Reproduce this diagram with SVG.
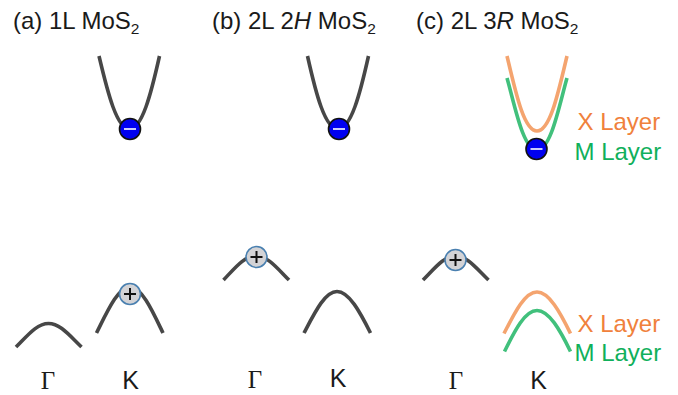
<svg xmlns="http://www.w3.org/2000/svg" width="678" height="395" viewBox="0 0 678 395">
<style>
text{font-family:"Liberation Sans",Arial,sans-serif;fill:#1a1a1a}
.t{font-size:24px}
.s{font-size:15.500px}
.i{font-style:italic}
.g{font-family:"Liberation Serif","Times New Roman",serif;font-size:25px;text-anchor:middle}
.k{font-size:25px;text-anchor:middle}
.b{fill:none;stroke:#474747;stroke-width:3.600}
.o{fill:none;stroke:#f4a46f;stroke-width:3.600}
.m{fill:none;stroke:#41c07c;stroke-width:3.600}
.lo{font-size:24px;fill:#f0813c}
.lm{font-size:24px;fill:#10b05c}
.e{fill:#0000f0;stroke:#111;stroke-width:1.600}
.h{fill:#d3d3d6;stroke:#4a80b0;stroke-width:1.600}
.ms{stroke:#fff;stroke-width:1.600}
.ps{stroke:#111;stroke-width:2}
</style>
<g id="connectors">
<path class="b" d="M99 56C108 94 117 129 129.500 129C142 129 151 94 159.500 56"/>
<path class="b" d="M307.500 56C316 94 325 129 338 129C351 129 360 94 368.500 56"/>
<path class="o" d="M507 56C516 94 524 131 537 131C550 131 558 94 567 56"/>
<path class="m" d="M507 78C515 106 523 150 537 150C551 150 559 106 567 78"/>
<path class="b" d="M16 347C28 335 37 323.500 48.500 323.500C60 323.500 69 335 81.500 347"/>
<path class="b" d="M96.500 333C107 312 118 287 130 287C142 287 153 312 163 333"/>
<path class="b" d="M223.500 280C235 268 244 256 256 256C268 256 277 268 289 280"/>
<path class="b" d="M304 333C315 312 325 291.500 337 291.500C349 291.500 360 312 370.500 333"/>
<path class="b" d="M423 280C435 268 444 256 455.500 256C467 256 476 268 488.500 280"/>
<path class="o" d="M504 333.500C515 312 525 292 537 292C549 292 560 312 570.500 333.500"/>
<path class="m" d="M504.500 351.500C515 330 525 310.500 537 310.500C549 310.500 560 330 570.500 351.500"/>
</g>
<g id="title-a"><text class="t" x="13" y="29">(a) 1L MoS<tspan class="s" dy="4.500">2</tspan></text></g>
<g id="title-b"><text class="t" x="212" y="29">(b) 2L 2<tspan class="i">H</tspan> MoS<tspan class="s" dy="4.500">2</tspan></text></g>
<g id="title-c"><text class="t" x="416" y="29">(c) 2L 3<tspan class="i">R</tspan> MoS<tspan class="s" dy="4.500">2</tspan></text></g>
<g id="electron-a"><circle class="e" cx="130" cy="129" r="10.500"/><path class="ms" d="M124 129H136"/></g>
<g id="electron-b"><circle class="e" cx="339" cy="129" r="10.500"/><path class="ms" d="M333 129H345"/></g>
<g id="electron-c"><circle class="e" cx="536.500" cy="149" r="10.500"/><path class="ms" d="M530.500 149H542.500"/></g>
<g id="hole-a"><circle class="h" cx="130" cy="294" r="10.500"/><path class="ps" d="M124 294H136M130 288V300"/></g>
<g id="hole-b"><circle class="h" cx="256.500" cy="257" r="10.500"/><path class="ps" d="M250.500 257H262.500M256.500 251V263"/></g>
<g id="hole-c"><circle class="h" cx="455.500" cy="260" r="10.500"/><path class="ps" d="M449.500 260H461.500M455.500 254V266"/></g>
<g id="labels">
<text class="g" x="48" y="389">Γ</text>
<text class="k" x="130.500" y="389">K</text>
<text class="g" x="255" y="388">Γ</text>
<text class="k" x="338" y="387">K</text>
<text class="g" x="456" y="389">Γ</text>
<text class="k" x="538.500" y="389">K</text>
<text class="lo" x="577.500" y="130">X Layer</text>
<text class="lm" x="574.500" y="160">M Layer</text>
<text class="lo" x="577.500" y="332">X Layer</text>
<text class="lm" x="574.500" y="361">M Layer</text>
</g>
</svg>
